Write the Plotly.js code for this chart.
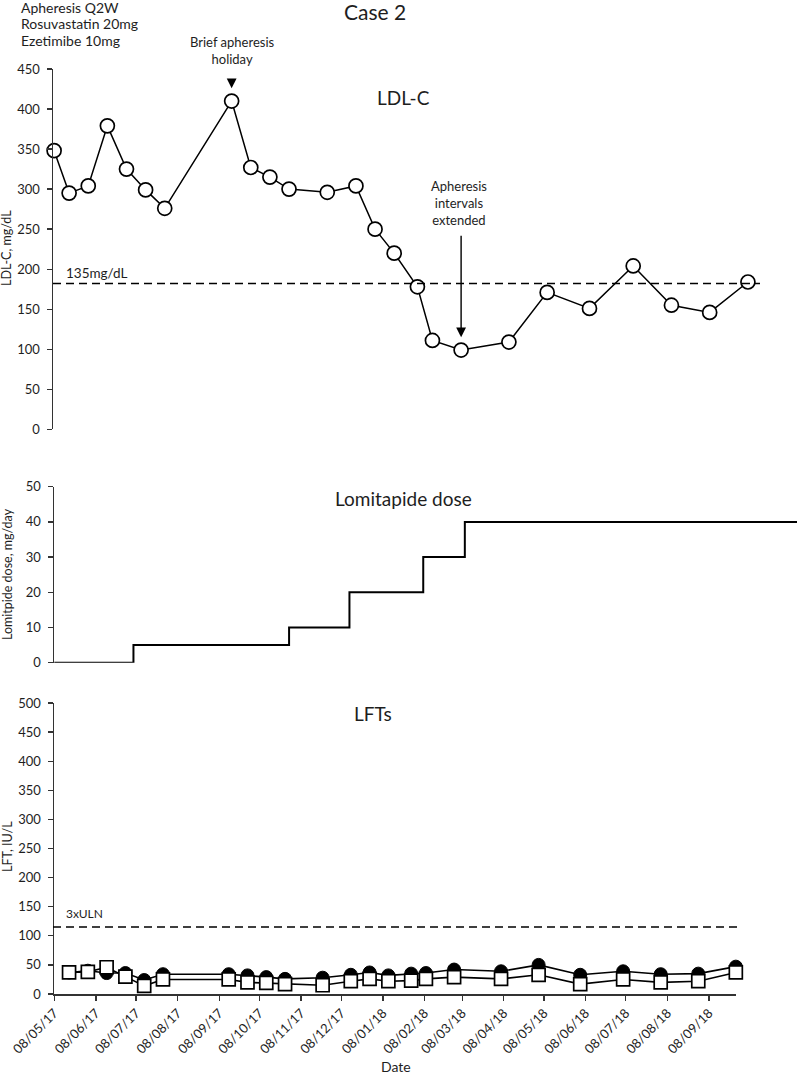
<!DOCTYPE html>
<html>
<head>
<meta charset="utf-8">
<script src="https://cdn.plot.ly/plotly-3.0.1.min.js"></script>
<style>html,body{margin:0;padding:0;background:#fff}#chart{width:798px;height:1074px}</style>
</head>
<body>
<div id="chart"></div>
<script>
// ---- data ----
const ldlDates = ['2017-05-08','2017-05-19','2017-06-02','2017-06-16','2017-06-30','2017-07-14','2017-07-28',
  '2017-09-15','2017-09-29','2017-10-13','2017-10-27','2017-11-24','2017-12-15','2017-12-29','2018-01-12',
  '2018-01-29','2018-02-09','2018-03-02','2018-04-06','2018-05-04','2018-06-04','2018-07-06','2018-08-03',
  '2018-08-31','2018-09-28'];
const ldlValues = [348,295,304,379,325,299,276,410,327,315,300,296,304,250,220,178,111,99,109,171,151,204,155,146,184];
const ldlTarget = 182;
const ldlTargetLabel = '135mg/dL';

const doseDates = ['2017-05-08','2017-07-06','2017-10-30','2017-12-14','2018-02-07','2018-03-10','2018-11-14'];
const doseValues = [0,5,10,20,30,40,40];

const lftDates = ldlDates.slice(1);
const lftCircleValues = [37,40,36,36,24,34,34,32,29,26,28,33,37,32,35,36,42,39,50,33,39,34,35,47];
const lftSquareValues = [37,38,46,30,14,25,25,20,19,17,15,22,26,22,23,26,29,26,33,17,25,20,22,37];
const lftLimit = 115;
const lftLimitLabel = '3xULN';

const tickDates = ['2017-05-08','2017-06-08','2017-07-08','2017-08-08','2017-09-08','2017-10-08','2017-11-08',
  '2017-12-08','2018-01-08','2018-02-08','2018-03-08','2018-04-08','2018-05-08','2018-06-08','2018-07-08',
  '2018-08-08','2018-09-08'];
const tickLabels = ['08/05/17','08/06/17','08/07/17','08/08/17','08/09/17','08/10/17','08/11/17','08/12/17',
  '08/01/18','08/02/18','08/03/18','08/04/18','08/05/18','08/06/18','08/07/18','08/08/18','08/09/18'];

const regimenLines = ['Apheresis Q2W', 'Rosuvastatin 20mg', 'Ezetimibe 10mg'];

// ---- layout helpers ----
const W = 798, H = 1074;
const FONT = 'Lato, "Open Sans", sans-serif';
const TXT = '#1e1e1e';
const AX = '#333';
const day0 = Date.UTC(2017, 4, 8);
const DAY = 86400000;
function px2date(px, origin, perDay) {
  const ms = day0 + (px - origin) / perDay * DAY;
  return new Date(ms).toISOString().slice(0, 19).replace('T', ' ');
}
const fx = p => p / W;
const fy = p => 1 - p / H;

const ldlScale = [54.1, 1.3658];
const lftScale = [54.3, 1.3416];

const yCommon = {
  showline: true, linecolor: AX, linewidth: 1.5,
  ticks: 'outside', ticklen: 5, tickwidth: 1.3, tickcolor: AX,
  ticklabelstandoff: 4,
  tickfont: {family: FONT, size: 13, color: TXT},
  showgrid: false, zeroline: false, automargin: false, fixedrange: true
};

const traces = [
  {x: ldlDates, y: ldlValues, xaxis: 'x', yaxis: 'y', type: 'scatter', mode: 'lines+markers',
   line: {color: '#000', width: 1.5},
   marker: {symbol: 'circle', size: 14, color: '#fff', line: {color: '#000', width: 1.7}},
   cliponaxis: false, hoverinfo: 'skip', showlegend: false},
  {x: doseDates, y: doseValues, xaxis: 'x2', yaxis: 'y2', type: 'scatter', mode: 'lines',
   line: {color: '#000', width: 2, shape: 'hv'}, hoverinfo: 'skip', showlegend: false},
  {x: lftDates, y: lftCircleValues, xaxis: 'x3', yaxis: 'y3', type: 'scatter', mode: 'lines+markers',
   line: {color: '#000', width: 1.6},
   marker: {symbol: 'circle', size: 13, color: '#000', line: {color: '#000', width: 1}},
   cliponaxis: false, hoverinfo: 'skip', showlegend: false},
  {x: lftDates, y: lftSquareValues, xaxis: 'x3', yaxis: 'y3', type: 'scatter', mode: 'lines+markers',
   line: {color: '#000', width: 1.6},
   marker: {symbol: 'square', size: 13, color: '#fff', line: {color: '#000', width: 1.7}},
   cliponaxis: false, hoverinfo: 'skip', showlegend: false}
];

const titleAnn = (text, x, y, size) => ({text, xref: 'paper', yref: 'paper', x: fx(x), y: fy(y),
  showarrow: false, font: {size, color: TXT}, xanchor: 'center', yanchor: 'middle'});
const yTitleAnn = (text, y) => ({text, xref: 'paper', yref: 'paper', x: fx(7), y: fy(y), showarrow: false,
  textangle: -90, font: {size: 12.5, color: TXT}, xanchor: 'center', yanchor: 'middle'});

const annotations = [
  titleAnn('Case 2', 375, 12, 21),
  titleAnn('LDL-C', 403, 98, 19),
  titleAnn('Lomitapide dose', 403, 498, 19),
  titleAnn('LFTs', 373, 713, 19),
  titleAnn('Date', 396, 1066, 14),
  yTitleAnn('LDL-C, mg/dL', 248),
  yTitleAnn('Lomitpide dose, mg/day', 574),
  yTitleAnn('LFT, IU/L', 847),
  {text: ldlTargetLabel, xref: 'paper', yref: 'paper', x: fx(64), y: fy(273), showarrow: false,
   font: {size: 13.5, color: TXT}, xanchor: 'left', yanchor: 'middle'},
  {text: lftLimitLabel, xref: 'paper', yref: 'paper', x: fx(64), y: fy(913), showarrow: false,
   font: {size: 12, color: TXT}, xanchor: 'left', yanchor: 'middle'},
  {text: 'Brief apheresis<br>holiday', xref: 'paper', yref: 'paper', x: fx(232), y: fy(50), showarrow: false,
   font: {size: 13, color: TXT}, xanchor: 'center', yanchor: 'middle', align: 'center'},
  {text: '', xref: 'x', yref: 'y', x: ldlDates[7], y: 426, showarrow: true, axref: 'pixel', ayref: 'pixel',
   ax: 0, ay: -9, arrowhead: 2, arrowsize: 1.4, arrowwidth: 1.4, arrowcolor: '#000', standoff: 0},
  {text: 'Apheresis<br>intervals<br>extended', xref: 'paper', yref: 'paper', x: fx(459), y: fy(203),
   showarrow: false, font: {size: 13, color: TXT}, xanchor: 'center', yanchor: 'middle', align: 'center'},
  {text: '', xref: 'x', yref: 'y', x: ldlDates[17], y: 115, showarrow: true, axref: 'pixel', ayref: 'pixel',
   ax: 0, ay: -103, arrowhead: 2, arrowsize: 1.4, arrowwidth: 1.4, arrowcolor: '#000', standoff: 0}
];
regimenLines.forEach((t, i) => annotations.push({text: t, xref: 'paper', yref: 'paper', x: fx(19),
  y: fy(7 + i * 16.7), showarrow: false, xanchor: 'left', yanchor: 'middle', font: {size: 14, color: TXT}}));

const layout = {
  width: W, height: H,
  margin: {l: 0, r: 0, t: 0, b: 0},
  paper_bgcolor: '#fff', plot_bgcolor: 'rgba(0,0,0,0)',
  font: {family: FONT, color: TXT},
  showlegend: false,
  xaxis: {domain: [fx(53), fx(760)], type: 'date', visible: false, anchor: 'y',
          range: [px2date(53, ...ldlScale), px2date(760, ...ldlScale)], fixedrange: true},
  yaxis: Object.assign({}, yCommon, {domain: [fy(429.3), fy(69)], range: [0, 450], dtick: 50, anchor: 'x'}),
  xaxis2: {domain: [fx(54), fx(797)], type: 'date', visible: false, anchor: 'y2',
           range: [px2date(54, ...lftScale), px2date(797, ...lftScale)], fixedrange: true},
  yaxis2: Object.assign({}, yCommon, {domain: [fy(662.7), fy(486.7)], range: [0, 50], dtick: 10, anchor: 'x2'}),
  xaxis3: {domain: [fx(54), fx(736)], type: 'date', anchor: 'y3',
           range: [px2date(54, ...lftScale), px2date(736, ...lftScale)],
           showline: true, linecolor: AX, linewidth: 1.5,
           ticks: 'outside', ticklen: 5, tickwidth: 1.3, tickcolor: AX,
           tickmode: 'array', tickvals: tickDates, ticktext: tickLabels, tickangle: -45,
           tickfont: {family: FONT, size: 13, color: TXT},
           showgrid: false, zeroline: false, automargin: false, fixedrange: true},
  yaxis3: Object.assign({}, yCommon, {domain: [fy(994), fy(703)], range: [0, 500], dtick: 50, anchor: 'x3'}),
  shapes: [
    {type: 'line', xref: 'paper', yref: 'y', x0: fx(53), x1: fx(760), y0: ldlTarget, y1: ldlTarget,
     line: {color: '#000', width: 1.5, dash: '8px,5px'}},
    {type: 'line', xref: 'paper', yref: 'y3', x0: fx(53), x1: fx(738), y0: lftLimit, y1: lftLimit,
     line: {color: '#000', width: 1.5, dash: '8px,5px'}}
  ],
  annotations
};

Plotly.newPlot('chart', traces, layout, {staticPlot: true, displayModeBar: false});
</script>
</body>
</html>
